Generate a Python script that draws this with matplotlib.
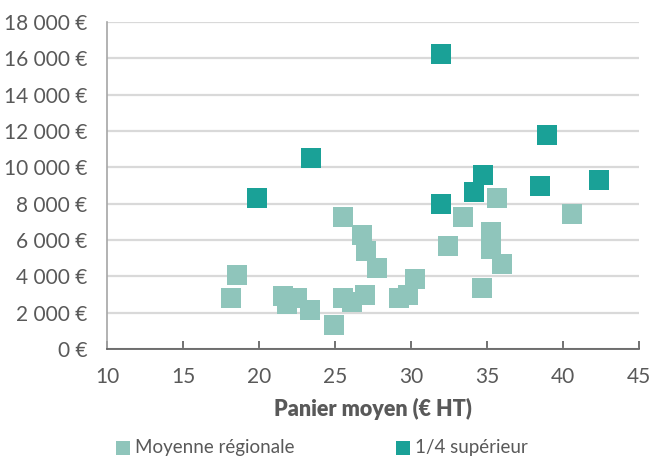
import matplotlib
matplotlib.use("Agg")
import matplotlib.pyplot as plt
from matplotlib.ticker import FuncFormatter, MultipleLocator

plt.rcParams['font.family'] = ['Lato', 'DejaVu Sans']

# Moyenne régionale
moy_x = [18.15, 18.55, 21.6, 21.85, 22.5, 23.35, 24.95, 25.55, 26.1, 27.0,
         25.5, 26.8, 27.05, 27.75, 29.2, 29.8, 30.25, 32.45, 33.4, 34.65,
         35.25, 35.25, 35.65, 36.0, 40.6]
moy_y = [2800, 4100, 2900, 2500, 2820, 2130, 1300, 2830, 2600, 2950,
         7250, 6250, 5400, 4450, 2830, 2950, 3850, 5650, 7250, 3350,
         6420, 5490, 8300, 4660, 7420]

# 1/4 supérieur
sup_x = [19.85, 23.4, 32.0, 31.95, 34.15, 34.75, 38.5, 38.95, 42.35]
sup_y = [8300, 10500, 16220, 7960, 8630, 9560, 8950, 11760, 9290]

series_labels = ["Moyenne régionale", "1/4 supérieur"]
light = "#8FC5BB"
dark = "#1AA197"
text_col = "#595959"

fig = plt.figure(figsize=(6.51, 4.57), dpi=100)
ax = fig.add_axes([107/651, 1 - 349/457, (639-107)/651, (349-22)/457])

ax.scatter(moy_x, moy_y, marker='s', s=205, c=light, linewidths=0, zorder=3,
           label=series_labels[0])
ax.scatter(sup_x, sup_y, marker='s', s=205, c=dark, linewidths=0, zorder=3,
           label=series_labels[1])

ax.set_xlim(10, 45)
ax.set_ylim(0, 18000)
ax.xaxis.set_major_locator(MultipleLocator(5))
ax.yaxis.set_major_locator(MultipleLocator(2000))

def euro(v, pos):
    v = int(round(v))
    if v >= 1000:
        return f"{v // 1000} {v % 1000:03d} €"
    return f"{v} €"

ax.yaxis.set_major_formatter(FuncFormatter(euro))

ax.grid(axis='y', color="#D9D9D9", linewidth=1.6, zorder=0)
ax.set_axisbelow(True)

for s in ['top', 'right']:
    ax.spines[s].set_visible(False)
ax.spines['left'].set_color("#A6A6A6")
ax.spines['left'].set_linewidth(1.2)
ax.spines['bottom'].set_color("#595959")
ax.spines['bottom'].set_linewidth(1.2)
ax.spines['bottom'].set_zorder(4)

ax.tick_params(axis='x', direction='in', length=6, width=1.2, color="#595959",
               labelsize=15, labelcolor=text_col, pad=13)
ax.tick_params(axis='y', length=0, labelsize=15, labelcolor=text_col, pad=14)

ax.set_xlabel("Panier moyen (€ HT)", fontsize=15.5, fontweight='heavy',
              color=text_col, labelpad=8)

fig.legend(loc='center', bbox_to_anchor=(0.494, 0.02), ncol=2, frameon=False,
           fontsize=13.5, labelcolor=text_col, handlelength=0.8,
           handletextpad=0.25, columnspacing=5.4, markerscale=0.7)

fig.savefig("out.png", dpi=100)
